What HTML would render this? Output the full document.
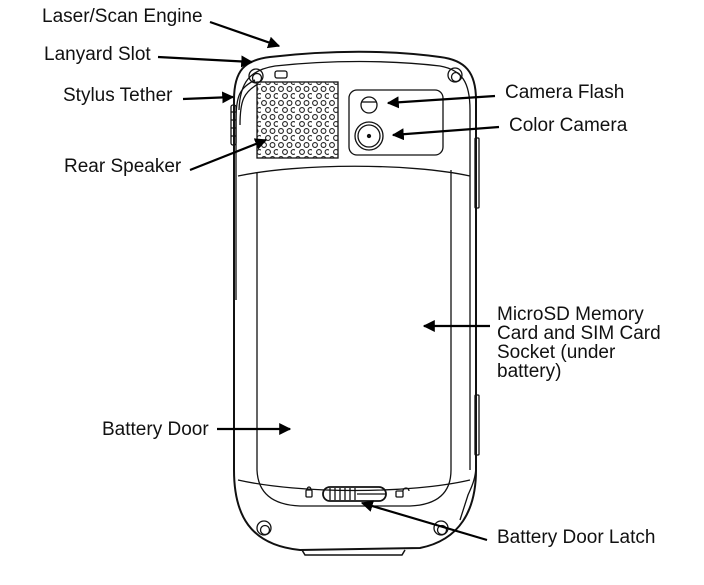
<!DOCTYPE html>
<html><head><meta charset="utf-8"><style>
html,body{margin:0;padding:0;background:#fff;}
svg{display:block;}
text{font-family:"Liberation Sans",Arial,sans-serif;font-size:19px;fill:#111;}
</style></head><body>
<svg width="704" height="585" viewBox="0 0 704 585" xmlns="http://www.w3.org/2000/svg">
<defs>
<marker id="ah" viewBox="0 0 10 10" refX="9" refY="5" markerWidth="12" markerHeight="12" markerUnits="userSpaceOnUse" orient="auto">
<path d="M0,0 L10,5 L0,10 z" fill="#000"/></marker>
<pattern id="dots" x="261" y="86" width="17" height="14" patternUnits="userSpaceOnUse">
<circle cx="3" cy="3" r="2.4" fill="none" stroke="#222" stroke-width="1.1"/>
<circle cx="11.5" cy="3" r="2.4" fill="none" stroke="#222" stroke-width="1.1"/>
<circle cx="7" cy="10" r="2.4" fill="none" stroke="#222" stroke-width="1.1"/>
<circle cx="15.5" cy="10" r="2.4" fill="none" stroke="#222" stroke-width="1.1"/>
</pattern>
</defs>
<g fill="none" stroke="#111" stroke-width="2">
<path d="M234,100 C234,70 245,60 270,57 C330,50 390,50 440,57 C465,60 476,72 476,100 L476,470 C476,510 460,540 420,548 L300,550 C250,545 234,515 234,470 Z"/>
<path d="M302,550 L305,555 L402,555 L405,550" stroke-width="1.5"/>
<path d="M239,110 C240,82 250,70 275,66 C330,60 390,60 440,66 C462,70 470,82 470,110 L470,470" stroke-width="1.3"/>
</g>
<g fill="none" stroke="#111" stroke-width="1.3">
<path d="M255,80 C240,88 236,95 236,120 L236,300"/>
<path d="M258,84 C244,92 240,100 240,125"/>
<rect x="231" y="105" width="5" height="40" rx="2"/>
<line x1="231" y1="112" x2="236" y2="112"/><line x1="231" y1="120" x2="236" y2="120"/><line x1="231" y1="128" x2="236" y2="128"/><line x1="231" y1="136" x2="236" y2="136"/>
<circle cx="256" cy="76" r="7"/><circle cx="257" cy="78" r="4.5"/>
<circle cx="455" cy="75" r="7"/><circle cx="456" cy="77" r="4.5"/>
<circle cx="264" cy="528" r="7"/><circle cx="265" cy="530" r="4.5"/>
<circle cx="441" cy="528" r="7"/><circle cx="442" cy="530" r="4.5"/>
<rect x="275" y="71" width="12" height="7" rx="2"/>
<rect x="257" y="82" width="81" height="76"/>
<rect x="349" y="90" width="94" height="65" rx="8"/>
<circle cx="369" cy="105" r="8"/>
<path d="M362,102 L376,102"/>
<circle cx="369" cy="136" r="14"/><circle cx="369" cy="136" r="11"/>
<circle cx="369" cy="136" r="1.5" fill="#111"/>
<path d="M238,176 C300,163 410,163 470,176"/>
<path d="M238,480 C300,494 410,494 470,480"/>
<path d="M257,172 L257,470 C258,495 275,505 300,506 L410,506 C435,505 451,495 451,470 L451,170"/>
<rect x="475" y="138" width="4" height="70" rx="1"/>
<rect x="475" y="395" width="4" height="60" rx="1"/>
<path d="M476,465 C476,480 470,490 468,495 L460,520"/>
<rect x="323" y="487" width="63" height="14" rx="7" stroke-width="1.8"/>
<path d="M330,488 L330,500 M335,488 L335,500 M340,488 L340,500 M345,488 L345,500 M350,488 L350,500 M355,488 L355,500" stroke-width="1.3"/>
<path d="M357,494 L386,494"/>
<rect x="306" y="490" width="6" height="7" rx="1"/><path d="M307,490 a2,3 0 0 1 4,0"/>
<rect x="396" y="491" width="7" height="6" rx="1"/><path d="M403,491 a3,3 0 0 1 6,0"/>
</g>
<rect x="257" y="82" width="81" height="76" fill="url(#dots)"/>
<g stroke="#000" stroke-width="2.2" fill="none" marker-end="url(#ah)">
<line x1="210" y1="22" x2="279" y2="46"/>
<line x1="158" y1="57" x2="252" y2="62"/>
<line x1="183" y1="99" x2="233" y2="97"/>
<line x1="190" y1="170" x2="266" y2="140"/>
<line x1="495" y1="96" x2="388" y2="103"/>
<line x1="499" y1="127" x2="393" y2="135"/>
<line x1="490" y1="326" x2="424" y2="326"/>
<line x1="217" y1="429" x2="290" y2="429"/>
<line x1="487" y1="540" x2="362" y2="503"/>
</g>
<text x="42" y="22">Laser/Scan Engine</text>
<text x="44" y="60">Lanyard Slot</text>
<text x="63" y="101">Stylus Tether</text>
<text x="64" y="172">Rear Speaker</text>
<text x="505" y="98">Camera Flash</text>
<text x="509" y="131">Color Camera</text>
<text x="497" y="320">MicroSD Memory</text>
<text x="497" y="339">Card and SIM Card</text>
<text x="497" y="358">Socket (under</text>
<text x="497" y="377">battery)</text>
<text x="102" y="435">Battery Door</text>
<text x="497" y="543">Battery Door Latch</text>
</svg>
</body></html>
